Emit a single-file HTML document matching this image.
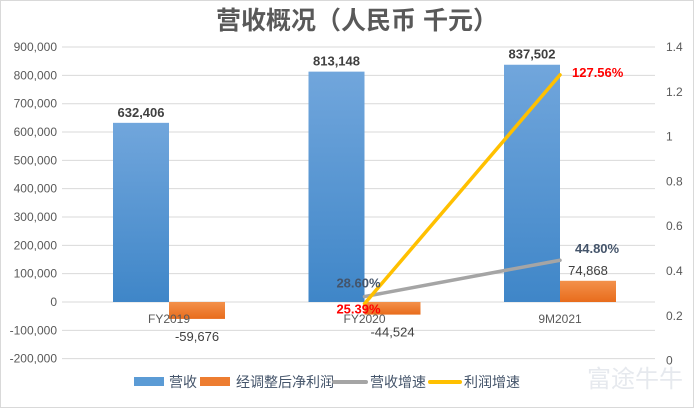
<!DOCTYPE html>
<html><head><meta charset="utf-8"><style>
body{margin:0;background:#fff;font-family:"Liberation Sans","Noto Sans CJK SC",sans-serif}
svg text{font-family:"Liberation Sans","Noto Sans CJK SC",sans-serif}
</style></head><body>
<svg width="694" height="408" xmlns="http://www.w3.org/2000/svg">
<defs>
<linearGradient id="gb" x1="0" y1="0" x2="0" y2="1"><stop offset="0" stop-color="#71a6dc"/><stop offset="1" stop-color="#3f86c8"/></linearGradient>
<linearGradient id="go" x1="0" y1="0" x2="0" y2="1"><stop offset="0" stop-color="#f3914b"/><stop offset="1" stop-color="#e86c1c"/></linearGradient>
</defs>
<rect x="0.5" y="0.5" width="693" height="407" fill="#fff" stroke="#d9d9d9"/>
<text x="357" y="29" text-anchor="middle" font-size="25" font-weight="bold" fill="#595959">营收概况（人民币 千元）</text>
<g id="grid"></g><g id="bars"></g><g id="lines"></g><g id="labels"></g>
<g font-size="14" fill="#44546a">
<rect x="134" y="377" width="30" height="9" fill="#5b9bd5"/>
<text x="169" y="387">营收</text>
<rect x="200" y="377" width="30" height="9" fill="#ed7d31"/>
<text x="236" y="387">经调整后净利润</text>
<line x1="334" y1="382" x2="366" y2="382" stroke="#a5a5a5" stroke-width="4" stroke-linecap="round"/>
<text x="370" y="387">营收增速</text>
<line x1="430" y1="382" x2="460" y2="382" stroke="#ffc000" stroke-width="4" stroke-linecap="round"/>
<text x="464" y="387">利润增速</text>
</g>
<text x="587" y="387" font-size="24" fill="#e6e9ee">富途牛牛</text>
</svg>
<script>
const categories=["FY2019","FY2020","9M2021"];
const revenue=[632406,813148,837502];
const profit=[-59676,-44524,74868];
const revGrowth=[null,0.286,0.448];
const profGrowth=[null,0.2539,1.2756];
const leftTicks=[900000,800000,700000,600000,500000,400000,300000,200000,100000,0,-100000,-200000];
const rightTicks=[1.4,1.2,1,0.8,0.6,0.4,0.2,0];
const NS="http://www.w3.org/2000/svg";
const yL=v=>302-v*0.0002833;
const yR=v=>360.6-v*224;
const xC=i=>169+i*195.5;
const fmt=v=>v.toLocaleString('en-US');
function mk(tag,attrs,parent,txt){const e=document.createElementNS(NS,tag);for(const k in attrs)e.setAttribute(k,attrs[k]);if(txt!=null)e.textContent=txt;document.getElementById(parent).appendChild(e);return e;}
leftTicks.forEach(v=>{
 const l=mk('line',{x1:62,x2:655,y1:yL(v),y2:yL(v),stroke:'#d9d9d9'},'grid');
 
 
 const t=mk('text',{x:57,y:yL(v)+4,'text-anchor':'end','font-size':12,fill:'#595959'},'grid',fmt(v));
 
 
});
rightTicks.forEach(v=>{
 const t=mk('text',{x:666,y:yR(v)+4,'font-size':12,fill:'#595959'},'grid',String(v));
 
 
});
categories.forEach((c,i)=>{
 const x=xC(i);
 const t=mk('text',{x:x,y:323,'text-anchor':'middle','font-size':12,fill:'#595959'},'labels',c);
 
 
 const r=revenue[i];
 const b=mk('rect',{x:x-56,width:56,y:Math.min(yL(r),yL(0)),height:Math.abs(yL(r)-yL(0)),fill:'url(#gb)'},'bars');
 
 
 const bl=mk('text',{x:x-28,y:yL(r)-6,'text-anchor':'middle','font-size':13,'font-weight':'bold',fill:'#404040'},'labels',fmt(r));
 
 
 const p=profit[i];
 const o=mk('rect',{x:x,width:56,y:Math.min(yL(p),yL(0)),height:Math.abs(yL(p)-yL(0)),fill:'url(#go)'},'bars');
 
 
 const py=p<0?yL(p)+22:yL(p)-6;
 const ol=mk('text',{x:x+28,y:py,'text-anchor':'middle','font-size':13,fill:'#404040'},'labels',fmt(p));
 
 
});
function line(arr,color,name,lblColor,dx,dy){
 const pts=[];arr.forEach((v,i)=>{if(v!=null)pts.push([xC(i),yR(v),v]);});
 const pl=mk('polyline',{points:pts.map(p=>p[0]+','+p[1]).join(' '),fill:'none',stroke:color,'stroke-width':3.5,'stroke-linecap':'round'},'lines');
 
 
 pts.forEach((p,k)=>{
  const t=mk('text',{x:p[0]+dx[k],y:p[1]+dy[k],'font-size':13,'font-weight':'bold',fill:lblColor,'text-anchor':k==0?'middle':'start'},'labels',(p[2]*100).toFixed(2)+'%');
  
  
 });
}
line(revGrowth,'#a5a5a5','revenue-growth-line','#44546a',[-6,15],[-9,-7]);
line(profGrowth,'#ffc000','profit-growth-line','#ff0000',[-6,12],[10,2]);
</script>
</body></html>
